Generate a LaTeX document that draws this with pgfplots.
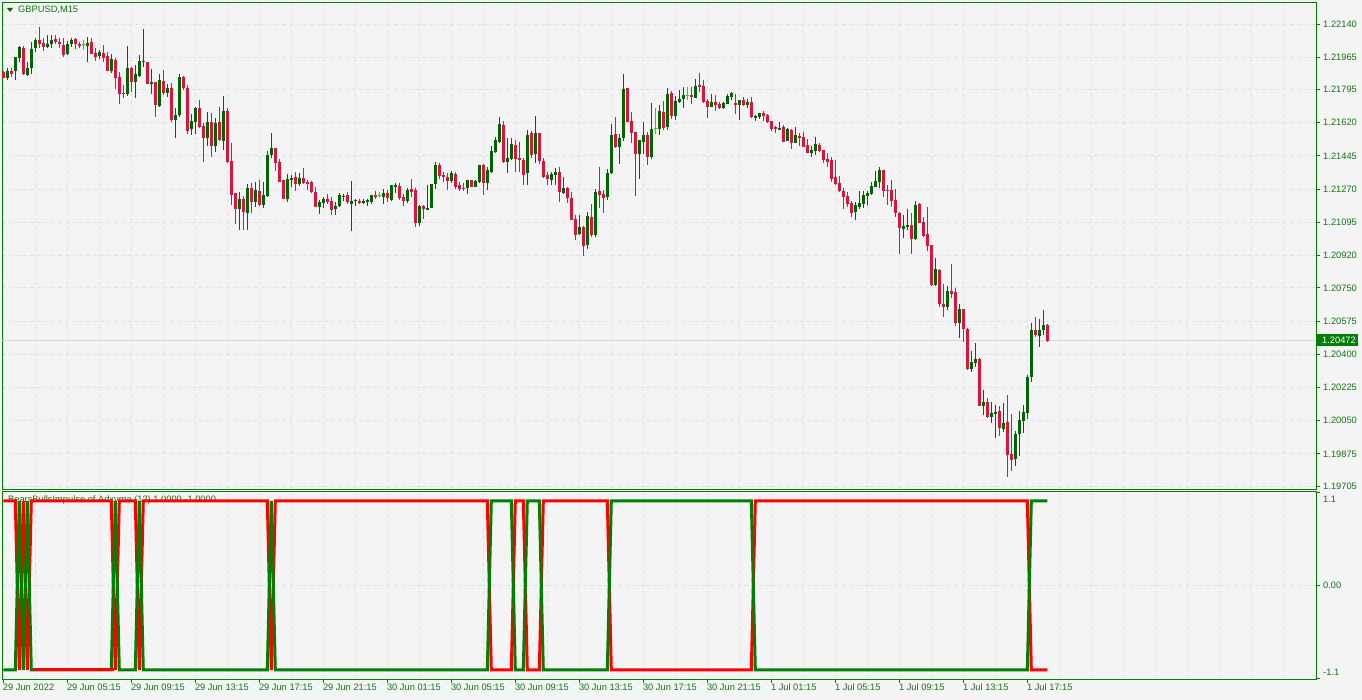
\documentclass[border=0pt]{standalone}
\usepackage{pgfplots}
\pgfplotsset{compat=1.18}
\usepackage{pgfplotstable}
\usepackage{fontspec}
\setmainfont{Liberation Sans}

\definecolor{bg}{RGB}{244,244,244}
\definecolor{frame}{RGB}{0,128,0}
\definecolor{gridc}{RGB}{222,222,244}
\definecolor{bull}{RGB}{0,100,0}
\definecolor{bear}{RGB}{220,20,60}
\definecolor{doji}{RGB}{0,230,0}
\definecolor{lbl}{RGB}{20,115,20}
\definecolor{indred}{RGB}{255,0,0}
\definecolor{indgreen}{RGB}{0,128,0}
\definecolor{bidline}{RGB}{212,212,245}

\pgfplotstableread{
i t O H L C
0 -1 1.21888 1.21893 1.21856 1.21856
1 1 1.21856 1.21909 1.21845 1.21893
2 -1 1.21893 1.21909 1.21861 1.21877
3 1 1.21893 1.21967 1.21845 1.21967
4 1 1.21961 1.22025 1.21940 1.22019
5 -1 1.22014 1.22025 1.21872 1.21877
6 1 1.21872 1.21940 1.21866 1.21909
7 1 1.21909 1.22046 1.21877 1.22009
8 1 1.22014 1.22067 1.21993 1.22056
9 -1 1.22056 1.22125 1.22014 1.22035
10 -1 1.22040 1.22067 1.21998 1.22019
11 1 1.22019 1.22083 1.22014 1.22035
12 1 1.22035 1.22083 1.22014 1.22056
13 -1 1.22061 1.22083 1.22035 1.22046
14 -1 1.22046 1.22067 1.22014 1.22035
15 -1 1.22030 1.22067 1.21967 1.21977
16 1 1.21982 1.22051 1.21977 1.22035
17 1 1.22035 1.22067 1.22019 1.22056
18 -1 1.22061 1.22067 1.22009 1.22035
19 -1 1.22035 1.22046 1.22014 1.22025
20 0 1.22030 1.22056 1.22004 1.22030
21 1 1.22025 1.22072 1.21940 1.22040
22 -1 1.22046 1.22067 1.21982 1.21982
23 -1 1.21988 1.22014 1.21946 1.21967
24 1 1.21972 1.22004 1.21956 1.21993
25 -1 1.21988 1.22030 1.21940 1.21961
26 -1 1.21972 1.21993 1.21893 1.21893
27 1 1.21893 1.21982 1.21882 1.21956
28 -1 1.21951 1.21961 1.21798 1.21856
29 -1 1.21861 1.21888 1.21719 1.21772
30 -1 1.21777 1.21819 1.21750 1.21772
31 1 1.21772 1.22025 1.21761 1.21909
32 -1 1.21909 1.21914 1.21782 1.21835
33 1 1.21835 1.21924 1.21750 1.21877
34 1 1.21866 1.21977 1.21861 1.21946
35 1 1.21940 1.22114 1.21914 1.21946
36 -1 1.21940 1.21940 1.21824 1.21824
37 1 1.21824 1.21903 1.21772 1.21835
38 -1 1.21835 1.21835 1.21650 1.21714
39 1 1.21708 1.21877 1.21703 1.21845
40 -1 1.21840 1.21898 1.21766 1.21777
41 1 1.21777 1.21824 1.21756 1.21803
42 -1 1.21803 1.21830 1.21624 1.21635
43 1 1.21635 1.21698 1.21540 1.21661
44 1 1.21661 1.21877 1.21650 1.21861
45 -1 1.21861 1.21866 1.21793 1.21803
46 -1 1.21803 1.21819 1.21561 1.21577
47 1 1.21587 1.21666 1.21556 1.21629
48 1 1.21624 1.21703 1.21561 1.21698
49 -1 1.21698 1.21740 1.21592 1.21598
50 -1 1.21603 1.21619 1.21413 1.21540
51 1 1.21540 1.21677 1.21498 1.21624
52 -1 1.21624 1.21671 1.21440 1.21498
53 1 1.21498 1.21645 1.21466 1.21619
54 -1 1.21624 1.21703 1.21524 1.21529
55 1 1.21524 1.21761 1.21476 1.21682
56 -1 1.21682 1.21698 1.21408 1.21413
57 -1 1.21418 1.21513 1.21187 1.21239
58 -1 1.21250 1.21250 1.21087 1.21166
59 1 1.21166 1.21255 1.21055 1.21218
60 -1 1.21218 1.21234 1.21055 1.21150
61 1 1.21145 1.21297 1.21055 1.21276
62 -1 1.21276 1.21303 1.21145 1.21203
63 1 1.21203 1.21308 1.21176 1.21266
64 -1 1.21260 1.21318 1.21181 1.21187
65 1 1.21187 1.21308 1.21171 1.21239
66 1 1.21234 1.21471 1.21229 1.21450
67 1 1.21450 1.21566 1.21434 1.21487
68 -1 1.21487 1.21487 1.21366 1.21408
69 -1 1.21413 1.21429 1.21308 1.21308
70 -1 1.21318 1.21318 1.21218 1.21218
71 1 1.21218 1.21350 1.21203 1.21324
72 1 1.21318 1.21345 1.21281 1.21329
73 -1 1.21334 1.21361 1.21260 1.21297
74 1 1.21297 1.21355 1.21287 1.21329
75 -1 1.21329 1.21382 1.21297 1.21303
76 -1 1.21308 1.21318 1.21266 1.21297
77 -1 1.21308 1.21313 1.21250 1.21255
78 -1 1.21255 1.21282 1.21176 1.21176
79 1 1.21176 1.21213 1.21139 1.21203
80 1 1.21197 1.21229 1.21171 1.21218
81 -1 1.21218 1.21245 1.21192 1.21203
82 -1 1.21208 1.21229 1.21134 1.21160
83 1 1.21166 1.21203 1.21134 1.21181
84 1 1.21181 1.21250 1.21176 1.21239
85 1 1.21229 1.21245 1.21208 1.21234
86 -1 1.21239 1.21255 1.21192 1.21203
87 1 1.21192 1.21313 1.21050 1.21208
88 1 1.21208 1.21218 1.21181 1.21213
89 -1 1.21208 1.21218 1.21192 1.21197
90 1 1.21197 1.21218 1.21192 1.21208
91 1 1.21203 1.21218 1.21181 1.21213
92 1 1.21203 1.21239 1.21192 1.21239
93 -1 1.21239 1.21260 1.21218 1.21229
94 0 1.21234 1.21255 1.21229 1.21234
95 1 1.21229 1.21271 1.21192 1.21250
96 -1 1.21250 1.21266 1.21203 1.21223
97 1 1.21213 1.21292 1.21208 1.21292
98 1 1.21282 1.21303 1.21250 1.21292
99 -1 1.21287 1.21303 1.21213 1.21223
100 -1 1.21229 1.21245 1.21181 1.21208
101 1 1.21208 1.21276 1.21197 1.21266
102 -1 1.21271 1.21324 1.21229 1.21255
103 -1 1.21266 1.21276 1.21071 1.21092
104 1 1.21092 1.21187 1.21076 1.21181
105 -1 1.21181 1.21187 1.21113 1.21166
106 1 1.21160 1.21292 1.21160 1.21171
107 1 1.21171 1.21297 1.21171 1.21297
108 1 1.21297 1.21413 1.21271 1.21398
109 -1 1.21398 1.21408 1.21324 1.21340
110 -1 1.21345 1.21361 1.21308 1.21334
111 -1 1.21334 1.21355 1.21266 1.21313
112 1 1.21313 1.21366 1.21303 1.21355
113 -1 1.21350 1.21361 1.21271 1.21282
114 -1 1.21292 1.21308 1.21260 1.21271
115 -1 1.21276 1.21303 1.21260 1.21271
116 1 1.21276 1.21318 1.21245 1.21318
117 -1 1.21318 1.21318 1.21282 1.21282
118 1 1.21282 1.21318 1.21282 1.21313
119 1 1.21308 1.21398 1.21303 1.21398
120 -1 1.21398 1.21403 1.21239 1.21303
121 1 1.21303 1.21387 1.21266 1.21371
122 1 1.21361 1.21498 1.21355 1.21471
123 1 1.21466 1.21545 1.21461 1.21529
124 1 1.21519 1.21650 1.21513 1.21613
125 -1 1.21608 1.21629 1.21408 1.21413
126 1 1.21413 1.21540 1.21355 1.21434
127 1 1.21429 1.21540 1.21424 1.21508
128 -1 1.21503 1.21529 1.21361 1.21429
129 -1 1.21434 1.21519 1.21361 1.21424
130 -1 1.21424 1.21434 1.21292 1.21345
131 1 1.21355 1.21582 1.21292 1.21556
132 -1 1.21566 1.21577 1.21434 1.21450
133 1 1.21455 1.21656 1.21408 1.21566
134 -1 1.21566 1.21566 1.21403 1.21418
135 -1 1.21418 1.21434 1.21329 1.21334
136 -1 1.21345 1.21361 1.21292 1.21324
137 1 1.21318 1.21361 1.21292 1.21350
138 1 1.21345 1.21382 1.21292 1.21361
139 -1 1.21361 1.21387 1.21203 1.21255
140 1 1.21250 1.21334 1.21245 1.21276
141 -1 1.21276 1.21282 1.21197 1.21224
142 -1 1.21224 1.21255 1.21108 1.21108
143 -1 1.21113 1.21134 1.21002 1.21029
144 1 1.21034 1.21134 1.21029 1.21071
145 -1 1.21071 1.21076 1.20918 1.20971
146 1 1.20976 1.21150 1.20955 1.21129
147 -1 1.21123 1.21192 1.21018 1.21029
148 1 1.21029 1.21271 1.21018 1.21255
149 -1 1.21260 1.21387 1.21171 1.21239
150 -1 1.21245 1.21266 1.21145 1.21224
151 1 1.21229 1.21376 1.21213 1.21355
152 1 1.21355 1.21614 1.21350 1.21556
153 -1 1.21561 1.21650 1.21487 1.21492
154 1 1.21492 1.21561 1.21403 1.21540
155 1 1.21540 1.21877 1.21524 1.21798
156 -1 1.21803 1.21803 1.21624 1.21624
157 -1 1.21629 1.21677 1.21513 1.21566
158 -1 1.21571 1.21571 1.21234 1.21455
159 1 1.21455 1.21529 1.21324 1.21529
160 1 1.21519 1.21624 1.21455 1.21556
161 -1 1.21556 1.21571 1.21398 1.21440
162 1 1.21440 1.21724 1.21429 1.21587
163 0 1.21587 1.21698 1.21561 1.21587
164 1 1.21587 1.21714 1.21556 1.21682
165 -1 1.21677 1.21735 1.21582 1.21592
166 1 1.21598 1.21803 1.21582 1.21772
167 -1 1.21777 1.21787 1.21640 1.21656
168 1 1.21656 1.21761 1.21635 1.21735
169 1 1.21730 1.21793 1.21724 1.21745
170 1 1.21745 1.21808 1.21698 1.21766
171 0 1.21761 1.21808 1.21740 1.21761
172 -1 1.21766 1.21808 1.21719 1.21756
173 1 1.21750 1.21851 1.21750 1.21814
174 -1 1.21819 1.21882 1.21782 1.21808
175 -1 1.21814 1.21845 1.21724 1.21730
176 -1 1.21735 1.21745 1.21645 1.21703
177 1 1.21703 1.21772 1.21703 1.21730
178 -1 1.21730 1.21766 1.21682 1.21714
179 -1 1.21719 1.21730 1.21693 1.21698
180 1 1.21698 1.21730 1.21693 1.21724
181 1 1.21719 1.21772 1.21719 1.21761
182 1 1.21756 1.21782 1.21740 1.21777
183 -1 1.21724 1.21772 1.21666 1.21714
184 1 1.21714 1.21740 1.21635 1.21740
185 -1 1.21740 1.21756 1.21708 1.21714
186 1 1.21714 1.21745 1.21698 1.21730
187 -1 1.21730 1.21756 1.21645 1.21650
188 1 1.21645 1.21661 1.21629 1.21656
189 1 1.21650 1.21671 1.21640 1.21671
190 -1 1.21671 1.21682 1.21629 1.21656
191 -1 1.21661 1.21666 1.21619 1.21624
192 -1 1.21629 1.21629 1.21577 1.21587
193 -1 1.21598 1.21603 1.21566 1.21587
194 1 1.21582 1.21624 1.21582 1.21592
195 -1 1.21598 1.21608 1.21519 1.21519
196 1 1.21524 1.21592 1.21524 1.21587
197 -1 1.21582 1.21587 1.21482 1.21513
198 1 1.21513 1.21598 1.21513 1.21556
199 -1 1.21550 1.21566 1.21498 1.21540
200 -1 1.21545 1.21571 1.21492 1.21492
201 -1 1.21503 1.21534 1.21461 1.21461
202 1 1.21461 1.21498 1.21440 1.21476
203 1 1.21471 1.21545 1.21450 1.21508
204 -1 1.21503 1.21513 1.21466 1.21471
205 -1 1.21476 1.21476 1.21408 1.21424
206 -1 1.21429 1.21461 1.21387 1.21413
207 -1 1.21424 1.21440 1.21308 1.21324
208 -1 1.21334 1.21424 1.21292 1.21297
209 -1 1.21303 1.21340 1.21255 1.21260
210 -1 1.21260 1.21276 1.21166 1.21229
211 -1 1.21234 1.21255 1.21176 1.21192
212 -1 1.21197 1.21208 1.21123 1.21145
213 1 1.21150 1.21203 1.21108 1.21187
214 1 1.21176 1.21260 1.21166 1.21197
215 1 1.21192 1.21260 1.21171 1.21239
216 1 1.21234 1.21260 1.21187 1.21250
217 1 1.21245 1.21308 1.21239 1.21287
218 1 1.21282 1.21366 1.21282 1.21313
219 1 1.21308 1.21387 1.21276 1.21371
220 -1 1.21371 1.21371 1.21229 1.21260
221 -1 1.21266 1.21292 1.21187 1.21260
222 -1 1.21266 1.21318 1.21176 1.21208
223 -1 1.21213 1.21271 1.21123 1.21145
224 -1 1.21145 1.21150 1.20928 1.21065
225 1 1.21060 1.21134 1.21013 1.21076
226 1 1.21071 1.21166 1.21055 1.21081
227 -1 1.21081 1.21145 1.20928 1.21008
228 1 1.21008 1.21208 1.21002 1.21187
229 -1 1.21192 1.21197 1.21092 1.21092
230 -1 1.21097 1.21123 1.21018 1.21023
231 -1 1.21034 1.21176 1.20944 1.20971
232 -1 1.20976 1.20976 1.20760 1.20765
233 1 1.20765 1.20907 1.20760 1.20849
234 -1 1.20844 1.20849 1.20649 1.20665
235 -1 1.20665 1.20770 1.20596 1.20649
236 1 1.20649 1.20760 1.20633 1.20733
237 -1 1.20733 1.20876 1.20696 1.20718
238 -1 1.20728 1.20749 1.20549 1.20565
239 1 1.20565 1.20665 1.20486 1.20639
240 -1 1.20639 1.20639 1.20465 1.20533
241 -1 1.20533 1.20538 1.20317 1.20322
242 1 1.20322 1.20417 1.20307 1.20359
243 1 1.20354 1.20459 1.20333 1.20375
244 -1 1.20375 1.20380 1.20127 1.20127
245 1 1.20127 1.20212 1.20080 1.20149
246 -1 1.20149 1.20170 1.20064 1.20069
247 1 1.20069 1.20149 1.20038 1.20091
248 1 1.20085 1.20133 1.19959 1.20096
249 -1 1.20101 1.20127 1.19969 1.20011
250 1 1.20006 1.20143 1.19990 1.20038
251 -1 1.20043 1.20185 1.19753 1.19869
252 -1 1.19874 1.20085 1.19785 1.19843
253 1 1.19848 1.19996 1.19811 1.19980
254 1 1.19980 1.20101 1.19864 1.20054
255 1 1.20048 1.20133 1.19985 1.20096
256 1 1.20091 1.20291 1.20059 1.20280
257 1 1.20280 1.20565 1.20254 1.20528
258 -1 1.20528 1.20596 1.20491 1.20502
259 1 1.20496 1.20586 1.20438 1.20528
260 1 1.20528 1.20633 1.20502 1.20554
261 -1 1.20554 1.20560 1.20465 1.20472
}\candles

\pgfplotsset{
  mt4/.style={
    scale only axis, anchor=south west, at={(0pt,0pt)},
    width=1314pt,
    xmin=-0.325, xmax=328.175,
    axis line style={draw=frame, line width=0.9pt},
    tick align=outside,
    major tick length=4pt, minor tick length=0pt,
    tick style={draw=frame, line width=0.9pt},
    ytick pos=right, yticklabel pos=right, xtick pos=left,
    major grid style={draw=gridc, dash pattern=on 4pt off 3pt, line width=0.9pt},
    minor grid style={draw=gridc, dash pattern=on 4pt off 3pt, line width=0.9pt},
    tick label style={font=\fontsize{9.3}{11}\selectfont, text=lbl},
    clip=true,
  },
  wick/.style={draw=none, mark=none, forget plot,
    error bars/y dir=minus, error bars/y explicit, error bars/error mark=none,
    error bars/error bar style={draw=#1, line width=1pt}},
  body/.style={draw=none, mark=none, forget plot,
    error bars/y dir=minus, error bars/y explicit, error bars/error mark=none,
    error bars/error bar style={draw=#1, line width=3pt}},
}

\begin{document}
\begin{tikzpicture}[x=1pt,y=1pt]
\fill[bg] (0,0) rectangle (1362,700);

% ---------------- price chart (prices drawn relative to 1.2 for TeX precision) ----------------
\begin{scope}[shift={(2pt,211pt)}]
\begin{axis}[mt4, height=487pt,
  y filter/.expression={y-1.2},
  ymin=-0.00310, ymax=0.02256,
  xtick={0,16,...,320}, xticklabels={}, x tick style={draw=none},
  minor xtick={8,24,...,312},
  xmajorgrids=true, xminorgrids=true, ymajorgrids=true,
  ytick={-0.00295,-0.00125,0.00050,0.00225,0.00400,0.00575,0.00750,0.00920,0.01095,0.01270,0.01445,0.01620,0.01795,0.01965,0.02140},
  yticklabels={1.19705,1.19875,1.20050,1.20225,1.20400,1.20575,1.20750,1.20920,1.21095,1.21270,1.21445,1.21620,1.21795,1.21965,1.22140},
  yticklabel style={inner sep=0pt, xshift=3pt},
]
\addplot[bidline, line width=0.9pt, forget plot] coordinates {(-0.325,1.20472) (328.175,1.20472)};
% wicks
\addplot[restrict expr to domain={\thisrow{t}}{0.5:1.5}, wick=bull]
  table[x=i, y=H, y error expr=\thisrow{H}-\thisrow{L}] {\candles};
\addplot[restrict expr to domain={\thisrow{t}}{-1.5:-0.5}, wick=bear]
  table[x=i, y=H, y error expr=\thisrow{H}-\thisrow{L}] {\candles};
\addplot[restrict expr to domain={\thisrow{t}}{-0.5:0.5}, wick=doji]
  table[x=i, y=H, y error expr=\thisrow{H}-\thisrow{L}] {\candles};
% bodies
\addplot[restrict expr to domain={\thisrow{t}}{0.5:1.5}, body=bull]
  table[x=i, y=C, y error expr=\thisrow{C}-\thisrow{O}] {\candles};
\addplot[restrict expr to domain={\thisrow{t}}{-1.5:-0.5}, body=bear]
  table[x=i, y=O, y error expr=\thisrow{O}-\thisrow{C}] {\candles};
\addplot[restrict expr to domain={\thisrow{t}}{-0.5:0.5}, draw=none, mark=none, forget plot,
  error bars/x dir=both, error bars/x fixed=0.42, error bars/error mark=none,
  error bars/error bar style={draw=doji, line width=1pt}]
  table[x=i, y=C] {\candles};
\end{axis}
\end{scope}

% title
\fill[bull] (7,692) -- (13,692) -- (10,688) -- cycle;
\node[anchor=west, inner sep=0pt, text=lbl, font=\fontsize{9.3}{11}\selectfont] at (18,690) {GBPUSD,M15};

% current price box
\fill[frame] (1317,354) rectangle (1358,366);
\node[anchor=west, inner sep=0pt, text=white, font=\fontsize{9.3}{11}\selectfont] at (1322,360) {1.20472};

% indicator title (under the lines)
\node[anchor=west, inner sep=0pt, text=lbl, font=\fontsize{9.3}{11}\selectfont] at (8,200) {BearsBullsImpulse of Adxvma (12) 1.0000 -1.0000};

% ---------------- indicator ----------------
\begin{scope}[shift={(2pt,21pt)}]
\begin{axis}[mt4, height=188pt,
  ymin=-1.1065, ymax=1.118,
  xtick={0,16,...,256},
  xticklabels={29 Jun 2022,29 Jun 05:15,29 Jun 09:15,29 Jun 13:15,29 Jun 17:15,29 Jun 21:15,30 Jun 01:15,30 Jun 05:15,30 Jun 09:15,30 Jun 13:15,30 Jun 17:15,30 Jun 21:15,1 Jul 01:15,1 Jul 05:15,1 Jul 09:15,1 Jul 13:15,1 Jul 17:15},
  xticklabel style={anchor=north west, inner sep=0pt, xshift=-0.5pt, yshift=-1pt},
  minor xtick={8,24,...,248,264,272,...,320},
  xmajorgrids=true, xminorgrids=true,
  ytick={-1.1,0,1.1}, yticklabels={}, minor ytick={0},
  ymajorgrids=false, yminorgrids=true,
]
\addplot[indred, line width=3pt, line join=miter, mark=none] coordinates {
(0,1) (3,1) (4,-1) (5,1) (6,-1) (7,1) (27,1) (28,-1) (29,1) (33,1) (34,-1) (35,1)
(66,1) (67,-1) (68,1) (121,1) (122,-1) (127,-1) (128,1) (130,1) (131,-1) (134,-1) (135,1)
(151,1) (152,-1) (187,-1) (188,1) (256,1) (257,-1) (261,-1)};
\addplot[indgreen, line width=3pt, line join=miter, mark=none] coordinates {
(0,-1) (3,-1) (4,1) (5,-1) (6,1) (7,-1) (27,-1) (28,1) (29,-1) (33,-1) (34,1) (35,-1)
(66,-1) (67,1) (68,-1) (121,-1) (122,1) (127,1) (128,-1) (130,-1) (131,1) (134,1) (135,-1)
(151,-1) (152,1) (187,1) (188,-1) (256,-1) (257,1) (261,1)};
\addplot[indred, line width=3pt, mark=none] coordinates {(7.3,-1) (27.7,-1)};
\end{axis}
\end{scope}

% indicator scale labels
\node[anchor=west, inner sep=0pt, text=lbl, font=\fontsize{9.3}{11}\selectfont] at (1323,201) {1.1};
\node[anchor=west, inner sep=0pt, text=lbl, font=\fontsize{9.3}{11}\selectfont] at (1323,114.5) {0.00};
\node[anchor=west, inner sep=0pt, text=lbl, font=\fontsize{9.3}{11}\selectfont] at (1323,27.3) {-1.1};

\pgfresetboundingbox
\path[use as bounding box] (0,0) rectangle (1362,700);
\end{tikzpicture}
\end{document}
